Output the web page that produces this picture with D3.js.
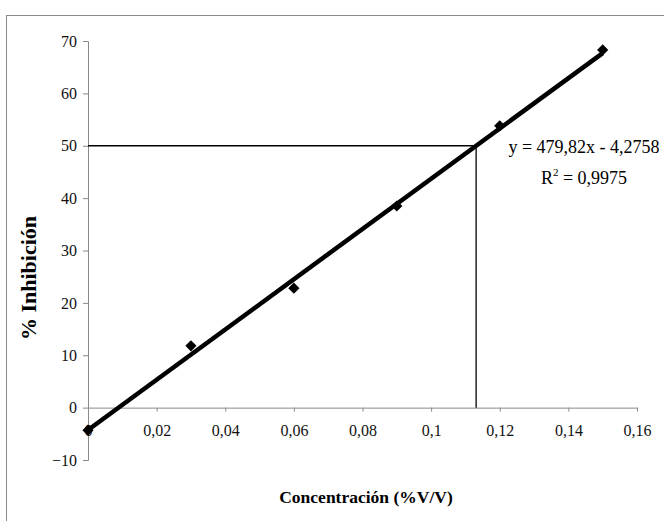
<!DOCTYPE html>
<html>
<head>
<meta charset="utf-8">
<script src="https://cdn.jsdelivr.net/npm/d3@7"></script>
<style>
  body { margin: 0; background: #fff; }
  svg, svg text { font-family: "Liberation Serif", "DejaVu Serif", serif; }
  svg { display: block; }
</style>
</head>
<body>
<svg class="ih-chart"></svg>
<script>
// data
let concentration = [0, 0.03, 0.06, 0.09, 0.12, 0.15];
let inhibition = [-4.3, 11.8, 22.8, 38.5, 53.8, 68.3];
let xTicks = [0, 0.02, 0.04, 0.06, 0.08, 0.1, 0.12, 0.14, 0.16];
let yTicks = [-10, 0, 10, 20, 30, 40, 50, 60, 70];
let slope = 479.82, intercept = -4.2758, rSquared = '0,9975';
let targetInhibition = 50;

let width = 664, height = 521;
let svg = d3.select('.ih-chart').attr('width', width).attr('height', height);

// outer frame (runs off the right and bottom edges)
svg.append('rect')
  .attr('x', 6.5).attr('y', 15.5)
  .attr('width', 720).attr('height', 560)
  .attr('fill', 'none').attr('stroke', '#8a8a8a').attr('stroke-width', 1);

let x = d3.scaleLinear().domain([0, 0.16]).range([88, 637]);
let y = d3.scaleLinear().domain([-10, 70]).range([460, 41]);

let fmt = d => d === 0 ? '0' : String(+d.toFixed(2)).replace('.', ',');

// y axis
let yAxis = svg.append('g')
  .attr('transform', 'translate(' + x(0) + ',0)')
  .call(d3.axisLeft(y).tickValues(yTicks).tickSize(5).tickPadding(6).tickFormat(d3.format('d')));
yAxis.select('.domain').attr('stroke', '#8a8a8a');
yAxis.selectAll('.tick line').attr('stroke', '#8a8a8a');
yAxis.selectAll('.tick text')
  .style('font-family', '"Liberation Serif", serif').style('font-size', '16px')
  .attr('fill', '#111');

// x axis sits on y = 0, labels dropped lower
let xAxis = svg.append('g')
  .attr('transform', 'translate(0,' + y(0) + ')')
  .call(d3.axisBottom(x).tickValues(xTicks).tickSize(4).tickSizeOuter(0).tickFormat(fmt));
xAxis.select('.domain').attr('stroke', '#8a8a8a');
xAxis.selectAll('.tick line').attr('stroke', '#8a8a8a');
xAxis.selectAll('.tick text')
  .style('font-family', '"Liberation Serif", serif').style('font-size', '16px')
  .attr('fill', '#111').attr('y', 17);

// guide lines at 50 %
let xAt50 = (targetInhibition - intercept) / slope;
svg.append('line')
  .attr('x1', x(0)).attr('x2', x(xAt50))
  .attr('y1', y(targetInhibition)).attr('y2', y(targetInhibition))
  .attr('stroke', '#000').attr('stroke-width', 1.3);
svg.append('line')
  .attr('x1', x(xAt50)).attr('x2', x(xAt50))
  .attr('y1', y(targetInhibition)).attr('y2', y(0))
  .attr('stroke', '#000').attr('stroke-width', 1.3);

// markers
let points = concentration.map((c, i) => ({c: c, v: inhibition[i]}));
svg.append('g').selectAll('path')
  .data(points)
  .enter().append('path')
  .attr('transform', d => 'translate(' + x(d.c) + ',' + y(d.v) + ')')
  .attr('d', d3.symbol(d3.symbolDiamond2, 80))
  .attr('fill', '#000');

// trendline
let fitEnds = [concentration[0], concentration[concentration.length - 1]];
svg.append('path')
  .datum(fitEnds)
  .attr('d', d3.line().x(d => x(d)).y(d => y(slope * d + intercept)))
  .attr('stroke', '#000').attr('stroke-width', 4.5).attr('fill', 'none');

// equation
svg.append('text')
  .attr('x', 584).attr('y', 153)
  .attr('text-anchor', 'middle').attr('font-size', 18)
  .text('y = ' + String(slope).replace('.', ',') + 'x - ' + String(-intercept).replace('.', ','));
let r2 = svg.append('text')
  .attr('x', 584).attr('y', 184)
  .attr('text-anchor', 'middle').attr('font-size', 18);
r2.append('tspan').text('R');
r2.append('tspan').attr('dy', -8).attr('font-size', 11).text('2');
r2.append('tspan').attr('dy', 8).text(' = ' + rSquared);

// axis titles
svg.append('text')
  .attr('x', 366).attr('y', 503)
  .attr('text-anchor', 'middle').attr('font-size', 17.5).attr('font-weight', 'bold')
  .text('Concentración (%V/V)');
svg.append('text')
  .attr('transform', 'translate(36,278) rotate(-90)')
  .attr('text-anchor', 'middle').attr('font-size', 22).attr('font-weight', 'bold')
  .text('% Inhibición');
</script>
</body>
</html>
